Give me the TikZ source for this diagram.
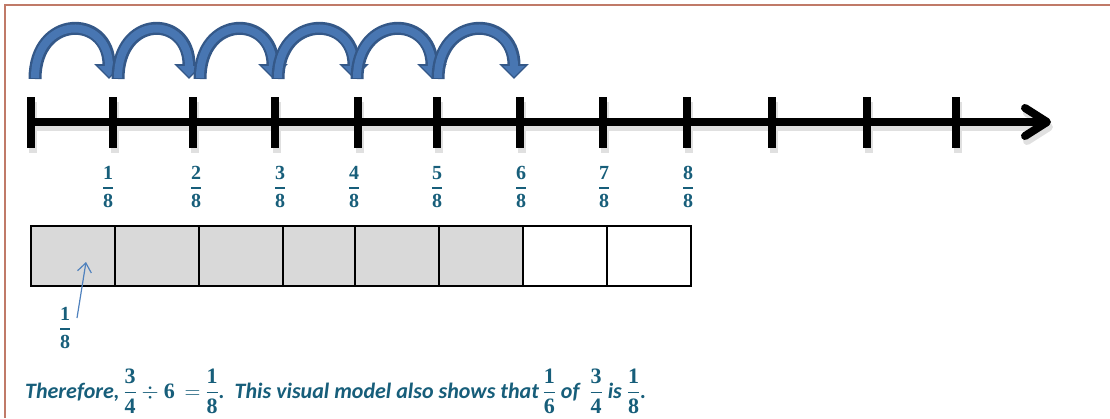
\RequirePackage{fix-cm}
\documentclass[tikz,border=0pt]{standalone}
\usepackage{amsmath}
\usepackage{fontspec}
\usepackage{xcolor}
\usepackage{tikz}
\usetikzlibrary{arrows.meta,positioning}

\newfontfamily\notefont{Carlito}
\newfontfamily\digitfont{Liberation Serif}
\newcommand{\digits}[1]{{\digitfont\bfseries\upshape #1}}
\newcommand{\vfrac}[2]{$\genfrac{}{}{1.8pt}{0}%
  {\hbox{\digits{#1}}}{\hbox{\digits{#2}}}$}
\definecolor{frameline}{RGB}{192,122,104}
\definecolor{hopedge}{RGB}{52,88,136}
\definecolor{hopblue}{RGB}{72,118,178}
\definecolor{labelteal}{RGB}{23,94,122}
\definecolor{cellgray}{RGB}{217,217,217}
\definecolor{pointerblue}{RGB}{79,129,189}

\begin{document}
\begin{tikzpicture}[x=1pt,y=-1pt,
    edgeline/.style={draw=frameline,line width=2.5pt},
    numline/.style={line width=8pt},
    tickmark/.style={line width=8pt},
    hop/.style={hopedge,line width=13pt,-{Triangle[length=15pt,width=29pt]}},
    hopfill/.style={hopblue,line width=8pt,shorten >=2pt,
      -{Triangle[length=11pt,width=21pt]}},
    frac/.style={text=labelteal,inner sep=0pt,
      font=\fontsize{20}{22}\selectfont},
    cell/.style={draw=black,line width=1.6pt,minimum height=60pt,
      minimum width=84pt,inner sep=0pt,outer sep=0pt},
    shaded/.style={cell,fill=cellgray},
    pointerarrow/.style={pointerblue,line width=1.2pt,
      -{Straight Barb[length=9pt,width=14pt]}},
    remark/.style={text=labelteal,inner sep=0pt,
      font=\notefont\bfseries\itshape\fontsize{22}{26}\selectfont}
  ]
    \useasboundingbox (0,0) rectangle (1110,418);
    \draw[edgeline] (5,418) -- (5,5) -- (1110,5);

    % number line, soft shadow first
    \foreach \dx/\dy/\ink in {2/5/black!12,0/0/black}{
      \begin{scope}[shift={(\dx,\dy)},draw=\ink]
        \draw[numline] (31,122) -- (1044,122);
        \draw[numline,line cap=round,line join=round]
          (1025,108) -- (1047,122) -- (1025,136);
        \foreach \x in {31,113,193,275,358,437,520,603,687,772,867,956}
          \draw[tickmark] (\x,97) -- (\x,148);
      \end{scope}}

    % jumps of one eighth
    \foreach \xs/\xe in {35/109,118/189,200/273,278/354,357/432,438/514}{
      \draw[hop] (\xs,79) .. controls (\xs,14) and (\xe,14) .. (\xe,79);
      \draw[hopfill] (\xs,78) .. controls (\xs,14) and (\xe,14) .. (\xe,79);}

    \foreach \x [count=\n] in {108,196,280,354,437,521,604,688}
      \node[frac] (f\n) at (\x,187) {\vfrac{\n}{8}};

    \node[shaded,anchor=north west] (c1) at (31,226) {};
    \node[shaded,right=0pt of c1] (c2) {};
    \node[shaded,right=0pt of c2] (c3) {};
    \node[shaded,right=0pt of c3,minimum width=72pt] (c4) {};
    \node[shaded,right=0pt of c4] (c5) {};
    \node[shaded,right=0pt of c5] (c6) {};
    \node[cell,right=0pt of c6] (c7) {};
    \node[cell,right=0pt of c7] (c8) {};

    \node[frac] (lone) at (65,328) {\vfrac{1}{8}};
    \coordinate (ptrtail) at (77,318);
    \coordinate (ptrhead) at (86,262);
    \draw[pointerarrow] (ptrtail) -- (ptrhead);

    \node[remark,anchor=base west] (summary) at (25,398) {Therefore,\,\vfrac{3}{4}\
      $\div$\ \digits{6}\ \ $=$\ \vfrac{1}{8}.\ \ This visual model also
      shows that\,\vfrac{1}{6}\ of\ \ \vfrac{3}{4}\ is\ \vfrac{1}{8}.};
  \end{tikzpicture}
\end{document}
